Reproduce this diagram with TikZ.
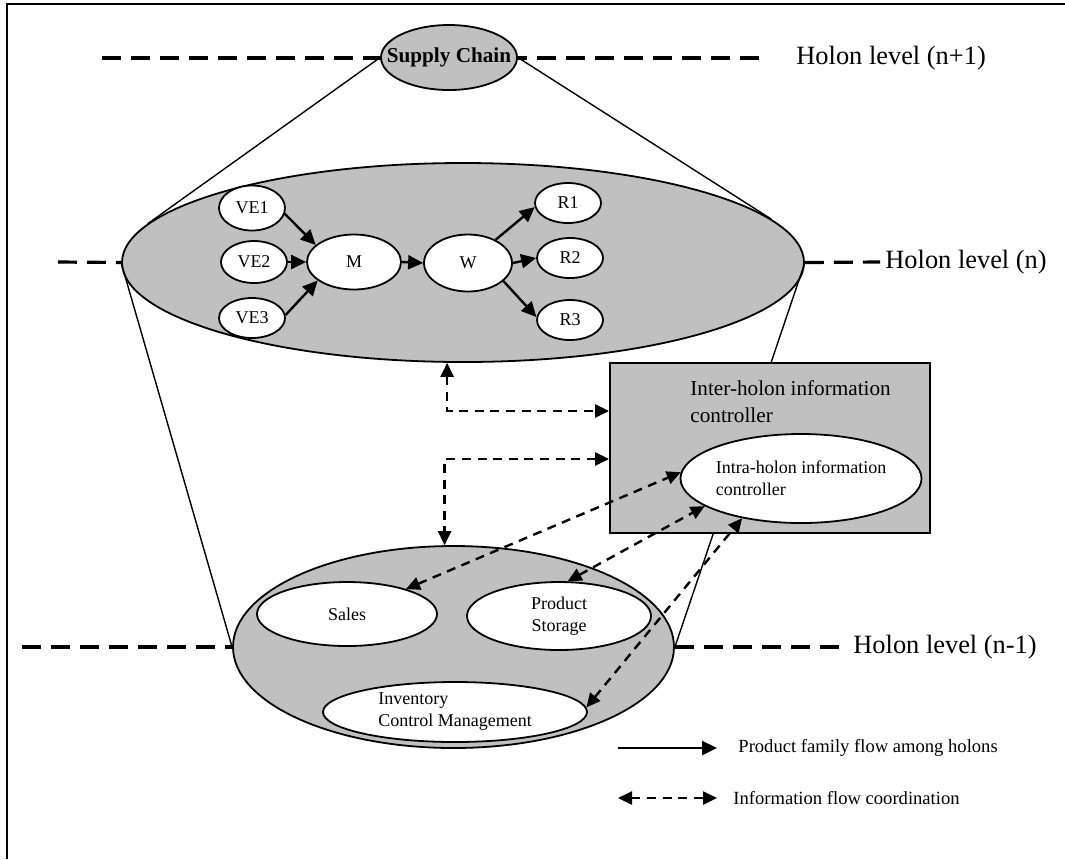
\documentclass[tikz,border=0pt]{standalone}
\usepackage{fontspec}
\setmainfont{Liberation Serif}
\usetikzlibrary{shapes.geometric,arrows.meta}
\definecolor{holongray}{RGB}{192,192,192}
\tikzset{
    holon/.style={ellipse, draw, line width=0.9pt, fill=holongray, inner sep=0pt},
    unit/.style={ellipse, draw, line width=0.9pt, fill=white, inner sep=0pt, align=center, font=\fontsize{9}{11}\selectfont},
    flow/.style={line width=1.2pt, -{Triangle[length=7.5pt,width=7pt]}},
    info/.style={line width=1.2pt, dash pattern=on 4.5pt off 3.3pt, {Triangle[length=7pt,width=6.5pt]}-{Triangle[length=7pt,width=6.5pt]}},
    level/.style={line width=1.6pt, dash pattern=on 9.5pt off 5pt},
    cone/.style={line width=0.7pt},
    lvltext/.style={anchor=west, inner sep=0pt, font=\fontsize{13.2}{15}\selectfont},
    legtext/.style={anchor=west, inner sep=0pt, font=\fontsize{9.3}{11}\selectfont},
}
\begin{document}
\begin{tikzpicture}[x=0.5pt, y=-0.5pt]
    \useasboundingbox (0,0) rectangle (1065,859);
    % frame
    \draw[line width=1pt] (7,859) -- (7,4) -- (1065,4);

    % level lines
    \coordinate (lv1a) at (102,58);
    \coordinate (lv1b) at (768,58);
    \coordinate (lv2a) at (58,262);
    \coordinate (lv2b) at (880,262);
    \coordinate (lv3a) at (22,647);
    \coordinate (lv3b) at (846,647);
    \draw[level] (lv1a) -- (lv1b);
    \node[lvltext] (lvl1) at (796,58) {Holon level (n+1)};
    \node[lvltext] (lvl2) at (885,262) {Holon level (n)};
    \node[lvltext] (lvl3) at (853,647) {Holon level (n-1)};

    % holons
    \node[holon, minimum width=341pt, minimum height=99.5pt] (mid) at (463,262.5) {};
    \node[holon, minimum width=220.5pt, minimum height=101pt] (bot) at (453.5,647) {};
    \node[holon, minimum width=68pt, minimum height=32.5pt] (sc) at (449,57.5) {\makebox[0pt]{\fontsize{10.6}{12}\selectfont\bfseries Supply Chain}};

    % cone
    \draw[cone] (sc.west) -- (mid.173.5);
    \draw[cone] (sc.east) -- (mid.8.7);
    \draw[cone] (mid.west) -- (bot.west);
    \draw[cone] (mid.east) -- (bot.east);
    \draw[level] (lv2a) -- (mid.west);
    \draw[level] (mid.east) -- (lv2b);
    \draw[level] (lv3a) -- (bot.west);
    \draw[level] (bot.east) -- (lv3b);

    % units of holon level (n)
    \node[unit, minimum width=33pt, minimum height=22.5pt] (ve1) at (252,208) {VE1};
    \node[unit, minimum width=33pt, minimum height=21pt] (ve2) at (254,262) {VE2};
    \node[unit, minimum width=33pt, minimum height=20pt] (ve3) at (252,318) {VE3};
    \node[unit, minimum width=47pt, minimum height=27.5pt] (m) at (354,262) {M};
    \node[unit, minimum width=44pt, minimum height=28.5pt] (w) at (468,263) {W};
    \node[unit, minimum width=33pt, minimum height=20pt] (r1) at (568,203) {R1};
    \node[unit, minimum width=33pt, minimum height=20pt] (r2) at (570,258) {R2};
    \node[unit, minimum width=33pt, minimum height=20pt] (r3) at (570,320) {R3};
    \draw[flow] (ve1.-10) -- (m.156);
    \draw[flow] (ve2.east) -- (m.west);
    \draw[flow] (ve3.5) -- (m.207);
    \draw[flow] (m.east) -- (w.west);
    \draw[flow] (w.40) -- (r1.187);
    \draw[flow] (w.east) -- (r2.west);
    \draw[flow] (w.-27) -- (r3.175);

    % units of holon level (n-1)
    \node[unit, minimum width=90pt, minimum height=32pt] (sales) at (347,614) {Sales};
    \node[unit, minimum width=92pt, minimum height=34pt] (ps) at (559,616) {Product\\Storage};
    \node[unit, minimum width=132pt, minimum height=30pt, align=left] (icm) at (455,712) {Inventory\\Control Management};

    % controllers
    \node[draw, line width=0.9pt, fill=holongray, minimum width=160pt, minimum height=85pt] (ihc) at (770,448) {};
    \node[anchor=north west, inner sep=0pt, align=left, font=\fontsize{10.6}{13.5}\selectfont] (ihctext) at (690,380) {Inter-holon information\\controller};
    \node[unit, minimum height=44.5pt, align=left] (intra) at (801,478.5) {Intra-holon information\\controller};

    % information flows
    \coordinate (y1) at (0,411);
    \coordinate (y2) at (0,459);
    \draw[info] (mid.261.4) |- (ihc.west |- y1);
    \draw[info] (ihc.west |- y2) -| (bot.95.4);
    \draw[info] (sales.23) -- (intra.177);
    \draw[info] (ps.76) -- (intra.196);
    \draw[info] (icm.2) -- (intra.214);

    % legend
    \coordinate (l1a) at (618,748);
    \coordinate (l1b) at (717,748);
    \coordinate (l2a) at (618,798);
    \coordinate (l2b) at (717,798);
    \draw[flow] (l1a) -- (l1b);
    \node[legtext] (leg1) at (738,748) {Product family flow among holons};
    \draw[info] (l2a) -- (l2b);
    \node[legtext] (leg2) at (733,798) {Information flow coordination};
\end{tikzpicture}
\end{document}
